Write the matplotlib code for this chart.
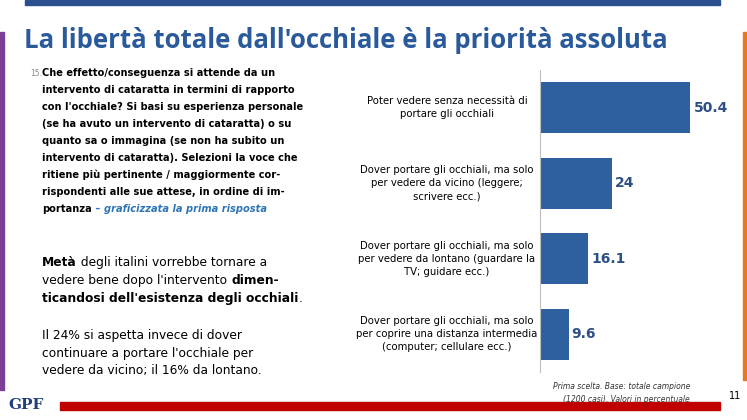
import matplotlib.pyplot as plt
from matplotlib.patches import Rectangle
from matplotlib.text import Annotation

categories = [
    "Poter vedere senza necessità di\nportare gli occhiali",
    "Dover portare gli occhiali, ma solo\nper vedere da vicino (leggere;\nscrivere ecc.)",
    "Dover portare gli occhiali, ma solo\nper vedere da lontano (guardare la\nTV; guidare ecc.)",
    "Dover portare gli occhiali, ma solo\nper coprire una distanza intermedia\n(computer; cellulare ecc.)",
]
values = [50.4, 24, 16.1, 9.6]
value_labels = ["50.4", "24", "16.1", "9.6"]

W, H = 747, 420
blue = "#2e5f9e"
fig = plt.figure(figsize=(W / 100, H / 100), dpi=100)


def px(x, y):
    return x / W, 1 - y / H


# decorative bands
fig.patches.append(Rectangle((25 / W, 1 - 5 / H), 695 / W, 5 / H, transform=fig.transFigure, color="#2b4f8f"))
fig.patches.append(Rectangle((0, 1 - 390 / H), 4 / W, 358 / H, transform=fig.transFigure, color="#7b3f98"))
fig.patches.append(Rectangle((743 / W, 1 - 380 / H), 4 / W, 348 / H, transform=fig.transFigure, color="#e87a1e"))
fig.patches.append(Rectangle((60 / W, 1 - 410 / H), 660 / W, 8 / H, transform=fig.transFigure, color="#c00000"))

fig.text(*px(24, 40), "La libertà totale dall'occhiale è la priorità assoluta",
         fontsize=18.5, fontweight="bold", color="#2a5a9a", va="center", family="Open Sans")

question = ["Che effetto/conseguenza si attende da un",
            "intervento di cataratta in termini di rapporto",
            "con l'occhiale? Si basi su esperienza personale",
            "(se ha avuto un intervento di cataratta) o su",
            "quanto sa o immagina (se non ha subito un",
            "intervento di cataratta). Selezioni la voce che",
            "ritiene più pertinente / maggiormente cor-",
            "rispondenti alle sue attese, in ordine di im-",
            "portanza"]
fig.text(*px(30, 74), "15.", fontsize=5.5, color="#888888", va="center")
for k, line in enumerate(question):
    last = fig.text(*px(42, 73 + k * 17), line, fontsize=7.1, va="center", fontweight="bold")
fig.add_artist(Annotation(" – graficizzata la prima risposta", xy=(1, 0), xycoords=last, va="bottom",
                          fontsize=7.1, color="#2e75b6", fontweight="bold", style="italic",
                          annotation_clip=False))

fs = 8.8
p1 = [[("Metà", True), (" degli italini vorrebbe tornare a", False)],
      [("vedere bene dopo l'intervento ", False), ("dimen-", True)],
      [("ticandosi dell'esistenza degli occhiali", True), (".", False)]]
for k, line in enumerate(p1):
    first = fig.text(*px(42, 266 + k * 18), line[0][0], fontsize=fs, va="baseline",
                     fontweight="bold" if line[0][1] else "normal")
    s, b = line[1]
    fig.add_artist(Annotation(s, xy=(1, 0), xycoords=first, va="bottom", fontsize=fs,
                              fontweight="bold" if b else "normal", annotation_clip=False))
fig.text(*px(42, 353), "Il 24% si aspetta invece di dover\ncontinuare a portare l'occhiale per\n"
         "vedere da vicino; il 16% da lontano.", fontsize=fs, va="center", linespacing=1.45)

fig.text(*px(690, 393), "Prima scelta. Base: totale campione\n(1200 casi). Valori in percentuale",
         fontsize=5.5, style="italic", ha="right", va="center", color="#333333", linespacing=1.5)
fig.text(*px(735, 396), "11", fontsize=7, ha="center", va="center")
fig.text(*px(8, 405), "GPF", fontsize=11, fontweight="bold", color="#1f3f7a", family="DejaVu Serif", va="center")

# chart
ax = fig.add_axes([540 / W, 1 - 372 / H, 200 / W, 302 / H])
y = list(range(len(values)))
ax.barh(y, values, height=0.67, color=blue)
ax.set_ylim(len(values) - 0.5, -0.5)
ax.set_xlim(0, 67)
for i, (v, lab) in enumerate(zip(values, value_labels)):
    ax.text(v + 1, i, lab, va="center", ha="left", fontsize=10, fontweight="bold", color="#2e4f85")
for i, c in enumerate(categories):
    ax.text(-93 / 2.985, i, c, ha="center", va="center", fontsize=7.3, linespacing=1.4)
ax.set_xticks([])
ax.set_yticks([])
for s in ["top", "right", "bottom"]:
    ax.spines[s].set_visible(False)
ax.spines["left"].set_color("#bfbfbf")

fig.savefig("out.png", dpi=100)
